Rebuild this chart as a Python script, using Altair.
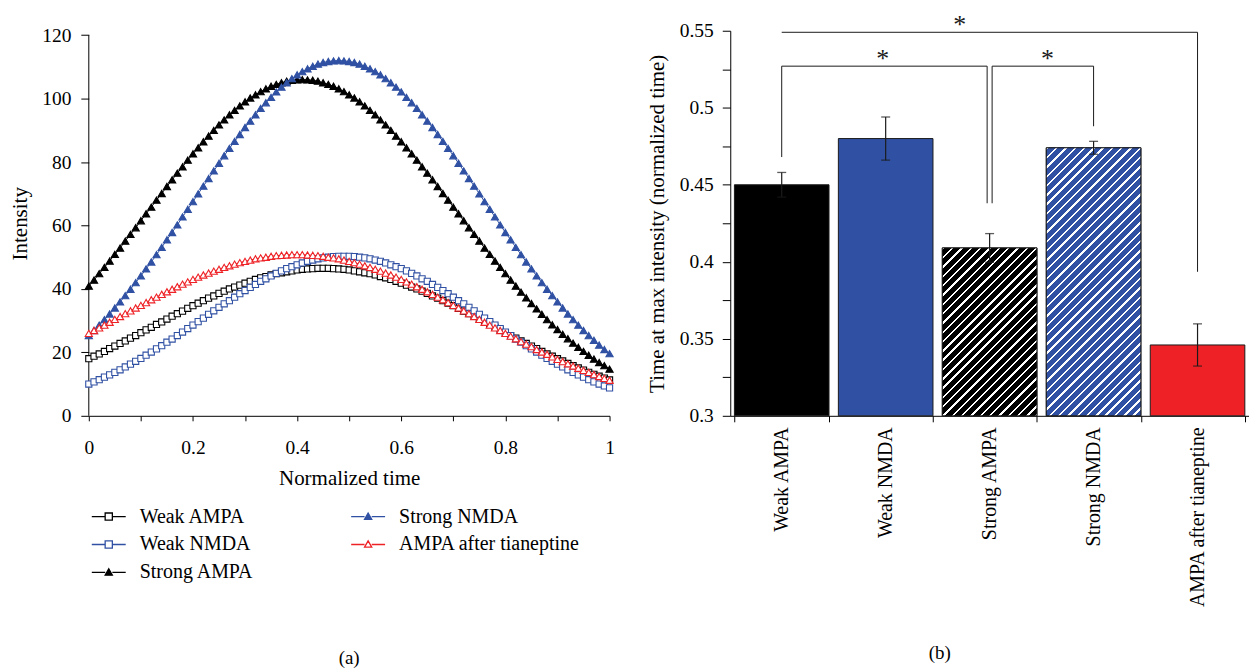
import altair as alt
import pandas as pd

FONT = "Liberation Serif"
BLACK = "#000000"
BLUE = "#3051a3"
RED = "#ee2226"
EDGE = "#1a1a1a"

# ---------------- panel (a) data ----------------
time_grid = [round(i * 0.01, 2) for i in range(101)]

weak_ampa = [18.0, 18.8, 19.5, 20.3, 21.2, 22.0, 22.8, 23.6, 24.5, 25.3,
             26.2, 27.1, 27.9, 28.8, 29.6, 30.5, 31.4, 32.2, 33.0, 33.9,
             34.7, 35.5, 36.3, 37.1, 37.8, 38.6, 39.3, 40.0, 40.6, 41.2,
             41.8, 42.4, 43.0, 43.5, 43.9, 44.4, 44.8, 45.1, 45.4, 45.7,
             46.0, 46.2, 46.3, 46.4, 46.5, 46.5, 46.5, 46.4, 46.3, 46.2,
             46.0, 45.7, 45.4, 45.1, 44.8, 44.4, 43.9, 43.5, 43.0, 42.4,
             41.8, 41.2, 40.6, 40.0, 39.3, 38.6, 37.8, 37.1, 36.3, 35.5,
             34.7, 33.9, 33.0, 32.2, 31.4, 30.5, 29.6, 28.8, 27.9, 27.1,
             26.2, 25.3, 24.5, 23.6, 22.8, 22.0, 21.2, 20.3, 19.5, 18.8,
             18.0, 17.3, 16.5, 15.8, 15.1, 14.4, 13.7, 13.1, 12.5, 11.9,
             11.3]

weak_nmda = [10.0, 10.7, 11.4, 12.2, 12.9, 13.7, 14.5, 15.4, 16.3, 17.2,
             18.1, 19.1, 20.1, 21.1, 22.1, 23.2, 24.2, 25.3, 26.4, 27.5,
             28.6, 29.7, 30.8, 32.0, 33.1, 34.2, 35.3, 36.3, 37.4, 38.5,
             39.5, 40.5, 41.4, 42.4, 43.2, 44.1, 44.9, 45.7, 46.4, 47.0,
             47.6, 48.2, 48.7, 49.1, 49.5, 49.8, 50.0, 50.2, 50.3, 50.3,
             50.3, 50.2, 50.0, 49.8, 49.5, 49.1, 48.7, 48.2, 47.6, 47.0,
             46.4, 45.7, 44.9, 44.1, 43.2, 42.4, 41.4, 40.5, 39.5, 38.5,
             37.4, 36.3, 35.3, 34.2, 33.1, 32.0, 30.8, 29.7, 28.6, 27.5,
             26.4, 25.3, 24.2, 23.2, 22.1, 21.1, 20.1, 19.1, 18.1, 17.2,
             16.3, 15.4, 14.5, 13.7, 12.9, 12.2, 11.4, 10.7, 10.0, 9.4,
             8.8]

strong_ampa = [40.9, 42.8, 44.8, 46.8, 48.8, 50.9, 52.9, 55.1, 57.2, 59.3,
               61.5, 63.7, 65.8, 68.0, 70.1, 72.3, 74.4, 76.5, 78.5, 80.6,
               82.6, 84.5, 86.4, 88.2, 90.0, 91.7, 93.3, 94.9, 96.3, 97.7,
               99.0, 100.2, 101.2, 102.2, 103.1, 103.9, 104.5, 105.0, 105.5, 105.8,
               105.9, 106.0, 105.9, 105.8, 105.5, 105.0, 104.5, 103.9, 103.1, 102.2,
               101.2, 100.2, 99.0, 97.7, 96.3, 94.9, 93.3, 91.7, 90.0, 88.2,
               86.4, 84.5, 82.6, 80.6, 78.5, 76.5, 74.4, 72.3, 70.1, 68.0,
               65.8, 63.7, 61.5, 59.3, 57.2, 55.1, 52.9, 50.9, 48.8, 46.8,
               44.8, 42.8, 40.9, 39.0, 37.2, 35.4, 33.7, 32.0, 30.3, 28.7,
               27.2, 25.7, 24.3, 22.9, 21.6, 20.3, 19.1, 17.9, 16.8, 15.8,
               14.7]

strong_nmda = [25.3, 26.9, 28.6, 30.3, 32.1, 34.0, 35.9, 37.9, 39.9, 42.0,
               44.1, 46.3, 48.5, 50.8, 53.1, 55.5, 57.8, 60.2, 62.7, 65.1,
               67.5, 70.0, 72.4, 74.8, 77.2, 79.6, 82.0, 84.3, 86.5, 88.7,
               90.9, 92.9, 94.9, 96.9, 98.7, 100.4, 102.1, 103.6, 105.0, 106.3,
               107.5, 108.5, 109.4, 110.2, 110.9, 111.4, 111.7, 111.9, 112.0, 111.9,
               111.7, 111.4, 110.9, 110.2, 109.4, 108.5, 107.5, 106.3, 105.0, 103.6,
               102.1, 100.4, 98.7, 96.9, 94.9, 92.9, 90.9, 88.7, 86.5, 84.3,
               82.0, 79.6, 77.2, 74.8, 72.4, 70.0, 67.5, 65.1, 62.7, 60.2,
               57.8, 55.5, 53.1, 50.8, 48.5, 46.3, 44.1, 42.0, 39.9, 37.9,
               35.9, 34.0, 32.1, 30.3, 28.6, 26.9, 25.3, 23.8, 22.3, 20.9,
               19.6]

ampa_tianeptine = [26.0, 26.9, 27.7, 28.6, 29.5, 30.4, 31.3, 32.2, 33.1, 34.0,
                   34.8, 35.7, 36.6, 37.4, 38.3, 39.1, 39.9, 40.7, 41.5, 42.2,
                   43.0, 43.7, 44.4, 45.0, 45.6, 46.2, 46.8, 47.3, 47.8, 48.3,
                   48.7, 49.1, 49.5, 49.8, 50.0, 50.3, 50.5, 50.6, 50.7, 50.8,
                   50.8, 50.8, 50.7, 50.6, 50.5, 50.3, 50.0, 49.8, 49.5, 49.1,
                   48.7, 48.3, 47.8, 47.3, 46.8, 46.2, 45.6, 45.0, 44.4, 43.7,
                   43.0, 42.2, 41.5, 40.7, 39.9, 39.1, 38.3, 37.4, 36.6, 35.7,
                   34.8, 34.0, 33.1, 32.2, 31.3, 30.4, 29.5, 28.6, 27.7, 26.9,
                   26.0, 25.1, 24.3, 23.4, 22.6, 21.8, 20.9, 20.1, 19.4, 18.6,
                   17.8, 17.1, 16.4, 15.7, 15.0, 14.3, 13.7, 13.0, 12.4, 11.8,
                   11.2]

series_names = ["Weak AMPA", "Weak NMDA", "Strong AMPA", "Strong NMDA", "AMPA after tianeptine"]
series_values = [weak_ampa, weak_nmda, strong_ampa, strong_nmda, ampa_tianeptine]

# ---------------- panel (b) data ----------------
bar_categories = ["Weak AMPA", "Weak NMDA", "Strong AMPA", "Strong NMDA", "AMPA after tianeptine"]
bar_means = [0.450, 0.480, 0.409, 0.474, 0.346]
bar_errors = [0.008, 0.014, 0.0093, 0.0042, 0.0137]

# significance brackets
sig_vert_cats = ["AMPA after tianeptine", "Weak AMPA", "Strong NMDA"]
sig_vert_top = [0.549, 0.527, 0.527]
sig_vert_bottom = [0.3935, 0.468, 0.488]
sig_h_from = ["Weak AMPA", "Weak AMPA", "Strong AMPA"]
sig_h_to = ["AMPA after tianeptine", "Strong AMPA", "Strong NMDA"]
sig_h_level = [0.549, 0.527, 0.527]
sig_split_cat = "Strong AMPA"
sig_split_top = 0.527
sig_split_bottom = 0.438
star_cats = ["Strong AMPA", "Weak NMDA", "Strong AMPA"]
star_levels = [0.5623, 0.5403, 0.5403]

# ---------------- panel (a) ----------------
rows = []
for name, vals in zip(series_names, series_values):
    for t, v in zip(time_grid, vals):
        rows.append({"t": t, "value": v, "series": name})
df_a = pd.DataFrame(rows)

legend_order = series_names
stroke_scale = alt.Scale(domain=legend_order, range=[BLACK, BLUE, BLACK, BLUE, RED])
fill_scale = alt.Scale(domain=legend_order, range=["#ffffff", "#ffffff", BLACK, BLUE, "#ffffff"])
SQ = "M-1.7,0H-0.36M0.36,0H1.7M-0.36,-0.36H0.36V0.36H-0.36Z"
TRI = "M-1.7,0H-0.36M0.36,0H1.7M0,-0.36L0.36,0.27H-0.36Z"
shape_scale = alt.Scale(domain=legend_order, range=[SQ, SQ, TRI, TRI, TRI])

leg = alt.Legend(title=None, orient="none", legendX=9, legendY=476, columns=2,
                 symbolSize=400, symbolStrokeWidth=1.3, symbolOpacity=1,
                 labelFont=FONT, labelFontSize=20, labelColor="black", labelLimit=400,
                 labelOffset=20, rowPadding=7, columnPadding=94, padding=0)

xa = alt.X("t:Q", scale=alt.Scale(domain=[0, 1], nice=False, zero=False),
           axis=alt.Axis(values=[0, 0.1, 0.2, 0.3, 0.4, 0.5, 0.6, 0.7, 0.8, 0.9, 1.0], format="~g",
                         labelExpr="round(datum.value * 10) % 2 == 0 ? datum.label : ''",
                         title="Normalized time", titleY=52, tickSize=5, labelPadding=18,
                         labelFlush=False))
ya = alt.Y("value:Q", scale=alt.Scale(domain=[0, 121.4], nice=False),
           axis=alt.Axis(values=[0, 10, 20, 30, 40, 50, 60, 70, 80, 90, 100, 110, 120],
                         labelExpr="datum.value % 20 == 0 ? datum.label : ''",
                         title="Intensity", titleX=-58, tickSize=8, labelPadding=10, domain=False,
                         labelFlush=False))

y_axis_line = alt.Chart(pd.DataFrame({"k": [0]})).mark_rule(color="black", strokeWidth=1).encode(
    x=alt.datum(0), y=alt.datum(0), y2=alt.datum(120))

lines = alt.Chart(df_a).mark_line(strokeWidth=1).encode(
    x=xa, y=ya, detail="series:N",
    stroke=alt.Stroke("series:N", scale=stroke_scale, legend=leg))

squares = alt.Chart(df_a).transform_filter(
    "datum.series == 'Weak AMPA' || datum.series == 'Weak NMDA'"
).mark_point(shape="square", size=38, filled=True, opacity=1, strokeWidth=1.1).encode(
    x=xa, y=ya,
    stroke=alt.Stroke("series:N", scale=stroke_scale, legend=leg),
    fill=alt.Fill("series:N", scale=fill_scale, legend=leg))

triangles = alt.Chart(df_a).transform_filter(
    "datum.series != 'Weak AMPA' && datum.series != 'Weak NMDA'"
).mark_point(shape="triangle-up", size=52, filled=True, opacity=1, strokeWidth=1.1).encode(
    x=xa, y=ya,
    stroke=alt.Stroke("series:N", scale=stroke_scale, legend=leg),
    fill=alt.Fill("series:N", scale=fill_scale, legend=leg))

legend_only = alt.Chart(df_a).transform_filter("false").mark_point(filled=True, opacity=1).encode(
    x=xa, y=ya,
    shape=alt.Shape("series:N", scale=shape_scale, legend=leg),
    stroke=alt.Stroke("series:N", scale=stroke_scale, legend=leg),
    fill=alt.Fill("series:N", scale=fill_scale, legend=leg))

panel_a = alt.layer(y_axis_line, lines, squares, triangles, legend_only).properties(
    width=522, height=386,
    title=alt.TitleParams("(a)", orient="bottom", anchor="middle", frame="group", offset=67,
                          fontSize=19, font=FONT, fontWeight="normal", color="black"))

# ---------------- panel (b) ----------------
PB_W, PB_H = 520, 386
P_IN, P_OUT = 0.09, 0.04

df_b = pd.DataFrame({"cat": bar_categories, "mean": bar_means, "err": bar_errors})
df_b["lo"] = df_b["mean"] - df_b["err"]
df_b["hi"] = df_b["mean"] + df_b["err"]

xb_axis = alt.Axis(title=None, labelAngle=-90, tickBand="extent", tickSize=6, labelPadding=5,
                   labelFontSize=20, labelLimit=400)
yb_axis = alt.Axis(values=[0.3, 0.325, 0.35, 0.375, 0.4, 0.425, 0.45, 0.475, 0.5, 0.525, 0.55],
                   format="~g", labelExpr="round(datum.value * 1000) % 50 == 0 ? datum.label : ''",
                   title="Time at max intensity (normalized time)", titleX=-63, tickSize=8, labelPadding=9,
                   labelFlush=False)
xb_scale = alt.Scale(domain=bar_categories, paddingInner=P_IN, paddingOuter=P_OUT)
yb_scale = alt.Scale(domain=[0.3, 0.55], nice=False, zero=False)


def xb(field):
    return alt.X(f"{field}:N", scale=xb_scale, axis=xb_axis, title=None)


def yb(field):
    return alt.Y(f"{field}:Q", scale=yb_scale, axis=yb_axis)


step = PB_W / (len(bar_categories) - P_IN + 2 * P_OUT)
bar_w = step * (1 - P_IN)


def hatch_fill(base, value, period=6.6, line=1.7):
    bar_h = (value - 0.3) / 0.25 * PB_H
    ratio = bar_w / bar_h
    gy = (ratio + 1) / (ratio * ratio + 1)
    gx = ratio * gy
    span = (bar_w + bar_h) / 2 ** 0.5
    n = span / period
    stops = []
    k = 0
    while k < n:
        a = round(k / n, 5)
        b = round(min((k + line / period) / n, 1.0), 5)
        c = round(min((k + 1) / n, 1.0), 5)
        stops += [alt.GradientStop(offset=a, color="#ffffff"), alt.GradientStop(offset=b, color="#ffffff"),
                  alt.GradientStop(offset=b, color=base), alt.GradientStop(offset=c, color=base)]
        k += 1
    return alt.LinearGradient(gradient="linear", stops=stops, x1=0, y1=0, x2=gx, y2=gy)


bars = alt.Chart(df_b).mark_bar(stroke=EDGE, strokeWidth=1).encode(
    x=xb("cat"), y=yb("mean"), y2=alt.datum(0.3),
    fill=alt.Fill("cat:N", scale=alt.Scale(domain=bar_categories, range=[BLACK, BLUE, BLACK, BLUE, RED]),
                  legend=None))

hatch_layers = []
for cat, base in [("Strong AMPA", BLACK), ("Strong NMDA", BLUE)]:
    val = bar_means[bar_categories.index(cat)]
    hatch_layers.append(
        alt.Chart(df_b).transform_filter(alt.datum.cat == cat).mark_bar(
            fill=hatch_fill(base, val), stroke=EDGE, strokeWidth=1).encode(
            x=xb("cat"), y=yb("mean"), y2=alt.datum(0.3)))

err_rules = alt.Chart(df_b).mark_rule(color=EDGE, strokeWidth=1.2).encode(x=xb("cat"), y=yb("lo"), y2="hi:Q")
cap_hi = alt.Chart(df_b).mark_tick(color=EDGE, size=9, thickness=1.3).encode(x=xb("cat"), y=yb("hi"))
cap_lo = alt.Chart(df_b).mark_tick(color=EDGE, size=9, thickness=1.3).encode(x=xb("cat"), y=yb("lo"))

df_v = pd.DataFrame({"c": sig_vert_cats, "top": sig_vert_top, "bottom": sig_vert_bottom})
v_rules = alt.Chart(df_v).mark_rule(color=EDGE, strokeWidth=1).encode(x=xb("c"), y=yb("top"), y2="bottom:Q")

df_split = pd.DataFrame({"c": [sig_split_cat], "top": [sig_split_top], "bottom": [sig_split_bottom]})
split_l = alt.Chart(df_split).mark_rule(color=EDGE, strokeWidth=1, xOffset=-2.5).encode(
    x=xb("c"), y=yb("top"), y2="bottom:Q")
split_r = alt.Chart(df_split).mark_rule(color=EDGE, strokeWidth=1, xOffset=2.5).encode(
    x=xb("c"), y=yb("top"), y2="bottom:Q")

h_layers = []
h_offsets = [dict(), dict(x2Offset=-2.5), dict(xOffset=2.5)]
for i in range(3):
    dfh = pd.DataFrame({"c1": [sig_h_from[i]], "c2": [sig_h_to[i]], "level": [sig_h_level[i]]})
    h_layers.append(alt.Chart(dfh).mark_rule(color=EDGE, strokeWidth=1, **h_offsets[i]).encode(
        x=xb("c1"), x2="c2:N", y=yb("level")))

star_dx = [-30, -3, 58]
star_layers = []
for i in range(3):
    dfs = pd.DataFrame({"c": [star_cats[i]], "level": [star_levels[i]]})
    star_layers.append(alt.Chart(dfs).mark_text(text="*", font=FONT, fontSize=26, color=EDGE,
                                                 dx=star_dx[i], baseline="top", align="center").encode(
        x=xb("c"), y=yb("level")))

panel_b = alt.layer(bars, *hatch_layers, err_rules, cap_hi, cap_lo, v_rules, split_l, split_r,
                    *h_layers, *star_layers).properties(
    width=PB_W, height=PB_H,
    title=alt.TitleParams("(b)", orient="bottom", anchor="middle", frame="group", offset=36, dx=-50,
                          fontSize=19, font=FONT, fontWeight="normal", color="black"))

chart = alt.hconcat(panel_a, panel_b, spacing=121, bounds="flush").resolve_scale(
    fill="independent", stroke="independent", shape="independent"
).properties(
    padding={"left": 2, "top": 3, "right": 0, "bottom": 0}
).configure_view(stroke=None).configure_axis(
    labelFont=FONT, titleFont=FONT, labelColor="black", titleColor="black",
    domainColor="black", tickColor="black", titleFontWeight="normal", grid=False,
    labelFontSize=19.5, titleFontSize=21, domainWidth=1, tickWidth=1)

chart.save("out.html", embed_options={"renderer": "svg", "actions": False})
